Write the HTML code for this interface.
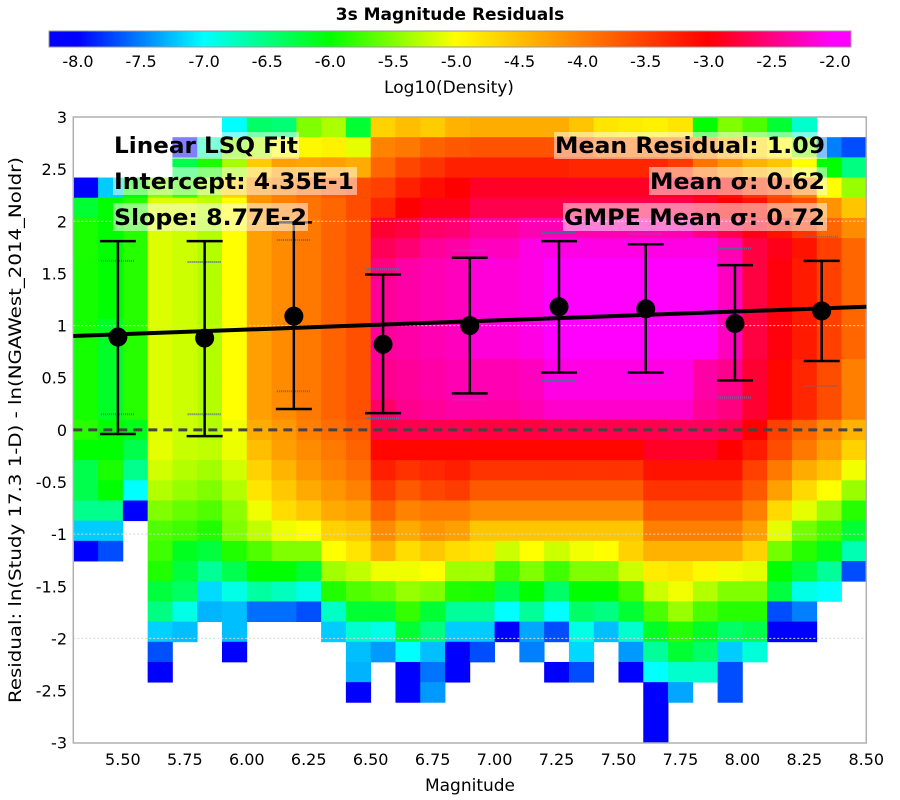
<!DOCTYPE html>
<html><head><meta charset="utf-8"><style>
html,body{margin:0;padding:0;background:#fff;}
svg{display:block;font-family:"DejaVu Sans","Liberation Sans",sans-serif;}
</style></head><body>
<svg id="chart" width="900" height="800" viewBox="0 0 900 800" xmlns="http://www.w3.org/2000/svg">
<defs>
<linearGradient id="cbgrad" x1="49" x2="851" y1="0" y2="0" gradientUnits="userSpaceOnUse">
<stop offset="0.036" stop-color="#0000ff"/><stop offset="0.193" stop-color="#00ffff"/><stop offset="0.350" stop-color="#00ff00"/><stop offset="0.507" stop-color="#ffff00"/><stop offset="0.821" stop-color="#ff0000"/><stop offset="0.979" stop-color="#ff00ff"/>
</linearGradient>
</defs>
<text x="450" y="20" text-anchor="middle" font-size="17" font-weight="bold">3s Magnitude Residuals</text>
<rect x="49" y="31" width="802" height="16" fill="url(#cbgrad)" stroke="#999" stroke-width="1"/>
<g id="cbticks"></g>
<text x="449" y="93" text-anchor="middle" font-size="17">Log10(Density)</text>
<g id="cells"></g>
<g id="grid"></g>
<rect x="73.3" y="117" width="793" height="626" fill="none" stroke="#b0b0b0" stroke-width="1.5"/>
<g id="yticks"></g>
<g id="xticks"></g>
<text x="470" y="791" text-anchor="middle" font-size="17">Magnitude</text>
<text transform="translate(21,430) rotate(-90)" text-anchor="middle" font-size="16.5" textLength="546" lengthAdjust="spacingAndGlyphs">Residual: ln(Study 17.3 1-D) - ln(NGAWest_2014_NoIdr)</text>
<line id="zeroline" stroke="#444" stroke-width="3" stroke-dasharray="9,6"/>
<g id="bars"></g>
<line id="fitline" stroke="#000" stroke-width="4"/>
<g id="points"></g>
<g font-size="22" font-weight="bold">
<rect x="172" y="132" width="127" height="27" fill="#fff" fill-opacity="0.5"/>
<rect x="113" y="167" width="244" height="28" fill="#fff" fill-opacity="0.5"/>
<rect x="113" y="203" width="195" height="28" fill="#fff" fill-opacity="0.5"/>
<text x="114" y="153" textLength="184" lengthAdjust="spacingAndGlyphs">Linear LSQ Fit</text>
<text x="114" y="189" textLength="240" lengthAdjust="spacingAndGlyphs">Intercept: 4.35E-1</text>
<text x="114" y="225" textLength="193" lengthAdjust="spacingAndGlyphs">Slope: 8.77E-2</text>
<rect x="554" y="132" width="273" height="27" fill="#fff" fill-opacity="0.5"/>
<rect x="649" y="167" width="178" height="28" fill="#fff" fill-opacity="0.5"/>
<rect x="563" y="203" width="264" height="28" fill="#fff" fill-opacity="0.5"/>
<text x="825" y="153" text-anchor="end" textLength="270" lengthAdjust="spacingAndGlyphs">Mean Residual: 1.09</text>
<text x="825" y="189" text-anchor="end" textLength="175" lengthAdjust="spacingAndGlyphs">Mean σ: 0.62</text>
<text x="825" y="225" text-anchor="end" textLength="261" lengthAdjust="spacingAndGlyphs">GMPE Mean σ: 0.72</text>
</g>
</svg>
<script>
const N = null;
const magMin = 5.3, magMax = 8.5, resMin = -3, resMax = 3;
const xTickLabels = ["5.50","5.75","6.00","6.25","6.50","6.75","7.00","7.25","7.50","7.75","8.00","8.25","8.50"];
const yTickLabels = ["3","2.5","2","1.5","1","0.5","0","-0.5","-1","-1.5","-2","-2.5","-3"];
const cbTickLabels = ["-8.0","-7.5","-7.0","-6.5","-6.0","-5.5","-5.0","-4.5","-4.0","-3.5","-3.0","-2.5","-2.0"];
const gridValues = [2, 1, -1, -2];
const density = [
[N,N,N,N,N,N,-7,-6.4,-6.45,-5.5,-5.33,-6.2,-4.65,-4.5,-4.6,-4.4,-4.35,-4.35,-4.35,-4.35,-4.55,-4.8,-4.85,-4.9,-4.8,-6,-5.5,-5.7,-6.2,-6.8,N,N],
[N,N,N,N,-8,-6.7,-5.5,-5.3,-5,-4.95,-4.9,-5.1,-4.02,-3.94,-3.78,-3.7,-3.65,-3.65,-3.65,-3.65,-3.65,-3.9,-3.9,-3.9,-3.9,-4.1,-4.4,-4.7,-4.95,-5.5,-7.5,-7.7],
[N,N,N,N,-6.3,-5.9,-5.35,-4.6,-4.25,-4.3,-4.25,-4.35,-3.8,-3.55,-3.4,-3.25,-3.25,-3.25,-3.25,-3.25,-3.3,-3.3,-3.3,-3.3,-3.45,-3.9,-4.15,-4.4,-4.55,-5,-6,-6.5],
[-8,-7.2,-6,-5.5,-5.75,-5.35,-4.65,-4.15,-4,-3.85,-3.7,-3.6,-3.5,-3.25,-3.1,-3,-2.85,-2.85,-2.85,-2.85,-2.85,-2.85,-2.85,-2.85,-2.85,-2.9,-3.1,-3.4,-3.6,-4,-5,-5.4],
[-6.2,-6,-5.85,-5.15,-5.15,-5.25,-5,-4.15,-4,-3.9,-3.8,-3.6,-3.3,-3,-2.9,-2.9,-2.7,-2.7,-2.7,-2.7,-2.7,-2.7,-2.7,-2.7,-2.7,-2.85,-3,-3.15,-3.5,-3.6,-4.15,-4.55],
[-5.9,-6,-5.85,-5.14,-5.2,-5.3,-5,-4.25,-4.1,-3.94,-3.78,-3.63,-2.8,-2.75,-2.6,-2.55,-2.4,-2.4,-2.3,-2.3,-2.3,-2.3,-2.3,-2.3,-2.3,-2.5,-2.7,-2.9,-3.15,-3.4,-3.8,-4.1],
[-5.9,-6,-5.85,-5.14,-5.2,-5.3,-5,-4.25,-4.1,-3.94,-3.78,-3.63,-2.65,-2.55,-2.4,-2.35,-2.25,-2.25,-2.1,-2.1,-2.1,-2.1,-2.1,-2.1,-2.1,-2.1,-2.3,-2.75,-2.9,-3.15,-3.5,-3.8],
[-5.92,-6,-5.85,-5.14,-5.2,-5.3,-5,-4.25,-4.1,-3.94,-3.78,-3.63,-2.5,-2.35,-2.3,-2.25,-2.15,-2.15,-2.1,-2,-2,-2,-2,-2,-2,-2,-2.25,-2.75,-2.95,-3.2,-3.5,-3.8],
[-5.92,-6,-5.85,-5.14,-5.2,-5.3,-5,-4.25,-4.1,-3.94,-3.78,-3.63,-2.4,-2.35,-2.3,-2.25,-2.15,-2.15,-2.1,-2,-2,-2,-2,-2,-2,-2,-2.25,-2.75,-2.95,-3.2,-3.5,-3.8],
[-5.92,-6,-5.85,-5.14,-5.2,-5.3,-5,-4.25,-4.1,-3.94,-3.78,-3.63,-2.4,-2.35,-2.3,-2.25,-2.15,-2.15,-2.1,-2,-2,-2,-2,-2,-2,-2,-2.25,-2.75,-2.95,-3.2,-3.5,-3.8],
[-5.92,-6.15,-5.85,-5.14,-5.2,-5.3,-5,-4.25,-4.1,-3.94,-3.78,-3.63,-2.4,-2.35,-2.3,-2.25,-2.15,-2.15,-2.1,-2,-2,-2,-2,-2,-2,-2,-2.25,-2.75,-2.95,-3.2,-3.5,-3.8],
[-5.92,-6.15,-5.85,-5.14,-5.2,-5.3,-5,-4.25,-4.1,-3.94,-3.78,-3.63,-2.4,-2.35,-2.3,-2.25,-2.15,-2.15,-2.1,-2,-2,-2,-2,-2,-2,-2,-2.25,-2.75,-2.95,-3.2,-3.5,-3.8],
[-5.92,-6.15,-5.85,-5.14,-5.2,-5.3,-5,-4.25,-4.1,-3.94,-3.78,-3.63,-2.45,-2.4,-2.35,-2.3,-2.3,-2.3,-2.25,-2.1,-2.1,-2.1,-2.1,-2.1,-2.1,-2.35,-2.45,-2.8,-3.05,-3.3,-3.6,-4],
[-5.92,-6.15,-5.85,-5.14,-5.2,-5.3,-5,-4.25,-4.1,-3.94,-3.78,-3.63,-2.45,-2.4,-2.35,-2.3,-2.3,-2.3,-2.25,-2.1,-2.1,-2.1,-2.1,-2.1,-2.1,-2.35,-2.45,-2.8,-3.05,-3.3,-3.6,-4],
[-5.92,-6.15,-5.85,-5.14,-5.2,-5.3,-5,-4.25,-4.1,-3.94,-3.78,-3.63,-2.6,-2.45,-2.4,-2.35,-2.35,-2.35,-2.3,-2.2,-2.2,-2.2,-2.2,-2.2,-2.2,-2.4,-2.5,-2.8,-3.05,-3.3,-3.6,-4],
[-5.85,-6,-6.1,-5.12,-5.2,-5.3,-5.05,-4.35,-4.2,-4,-3.85,-3.7,-2.75,-2.7,-2.7,-2.7,-2.75,-2.75,-2.75,-2.7,-2.7,-2.7,-2.7,-2.7,-2.65,-2.65,-2.7,-3,-3.5,-3.8,-4.1,-4.4],
[-6,-6,-6.3,-5.1,-5.22,-5.25,-5.08,-4.49,-4.25,-4.1,-3.94,-3.78,-3.05,-3.05,-3.05,-3.05,-3.05,-3.05,-3.05,-3.05,-3.05,-3.05,-3.05,-2.85,-2.85,-2.85,-3,-3.2,-3.6,-3.95,-4.25,-4.65],
[-6.3,-5.9,-6.55,-5.18,-5.3,-5.37,-5.18,-4.65,-4.41,-4.18,-4.02,-3.86,-3.24,-3.39,-3.31,-3.24,-3.4,-3.4,-3.4,-3.4,-3.4,-3.4,-3.4,-3.15,-3.15,-3.15,-3.15,-3.5,-3.95,-4.35,-4.55,-5.05],
[-6.3,-6,-7,-5.3,-5.41,-5.5,-5.3,-4.8,-4.57,-4.33,-4.18,-4.02,-3.47,-3.7,-3.55,-3.47,-3.7,-3.7,-3.7,-3.7,-3.7,-3.7,-3.7,-3.4,-3.4,-3.4,-3.4,-3.7,-4.25,-4.7,-5,-5.4],
[-6.55,-6.55,-8,-5.5,-5.6,-5.69,-5.45,-5.06,-4.73,-4.57,-4.33,-4.25,-3.78,-4.02,-3.94,-3.94,-4.1,-4.1,-4.1,-4.1,-4.1,-4.1,-4.1,-3.7,-3.7,-3.7,-3.7,-4,-4.7,-5.1,-5.4,-5.85],
[-7.2,-7.2,N,-5.69,-5.76,-5.88,-5.5,-5.25,-5.06,-5,-4.65,-4.57,-4.1,-4.33,-4.18,-4.25,-4.55,-4.55,-4.55,-4.55,-4.55,-4.55,-4.55,-4,-4,-4,-4,-4.25,-5.1,-5.55,-5.75,-6.2],
[-8,-7.7,N,-5.76,-6.12,-6.24,-5.88,-5.69,-5.5,-5.5,-5,-4.8,-4.41,-4.73,-4.57,-4.73,-4.8,-5.2,-5,-5.2,-5.05,-5,-4.65,-4.4,-4.4,-4.4,-4.4,-4.65,-5.55,-5.85,-6.1,-6.7],
[N,N,N,-5.88,-6.24,-6.59,-6.31,-6,-6,-6.2,-5.37,-5.25,-5.06,-5.06,-5,-5.37,-5.35,-5.75,-5.5,-5.75,-5.5,-5.5,-5.2,-4.85,-4.8,-4.95,-5.05,-5.1,-6,-6.25,-6.6,-7.7],
[N,N,N,-6.24,-6.39,-7.14,-6.9,-6.63,-6.75,-6.9,-5.88,-5.69,-5.6,-5.41,-5.5,-5.88,-5.9,-6.3,-6,-6.4,-6,-6,-5.75,-5.2,-5.05,-5.3,-5.5,-5.5,-6.25,-6.9,-7,N],
[N,N,N,-6.5,-6.9,-7.29,-7.25,-7.57,-7.57,-7.69,-6.78,-6.2,-6.2,-5.8,-6.2,-6.6,-6.6,-7,-6.6,-7,-6.4,-6.5,-6.2,-5.7,-5.4,-5.7,-5.85,-5.85,-7.7,-7.5,N,N],
[N,N,N,-7.18,-7.25,N,-7.25,N,N,N,-7.2,-6.8,-6.9,-6.2,-6.5,-7.2,-7.2,-8,-7.35,-7.7,-6.9,-7.25,-6.8,-6.15,-5.85,-6.15,-6.4,-6.3,-8,-8,N,N],
[N,N,N,-7.69,N,N,-8,N,N,N,N,-7.25,-7.4,-7,-7.25,-8,-7.7,N,-7.5,N,-7.15,N,-7.4,-6.6,-6.2,-6.4,-7.2,-6.85,N,N,N,N],
[N,N,N,-8,N,N,N,N,N,N,N,-7.3,N,-8,-7.55,-8,N,N,N,-8,-7.7,N,-8,-7,-6.8,-6.8,-7.7,N,N,N,N,N],
[N,N,N,N,N,N,N,N,N,N,N,-8,N,-8,-7.4,N,N,N,N,N,N,N,N,-8,-7.35,N,-7.7,N,N,N,N,N],
[N,N,N,N,N,N,N,N,N,N,N,N,N,N,N,N,N,N,N,N,N,N,N,-8,N,N,N,N,N,N,N,N],
[N,N,N,N,N,N,N,N,N,N,N,N,N,N,N,N,N,N,N,N,N,N,N,-8,N,N,N,N,N,N,N,N]
];
const binMags = [5.48, 5.83, 6.19, 6.55, 6.90, 7.26, 7.61, 7.97, 8.32];
const binMeans = [0.89, 0.88, 1.09, 0.82, 1.00, 1.18, 1.16, 1.02, 1.14];
const sigmaHi = [1.81, 1.81, 1.99, 1.49, 1.65, 1.81, 1.78, 1.58, 1.62];
const sigmaLo = [-0.04, -0.06, 0.20, 0.16, 0.35, 0.55, 0.55, 0.475, 0.66];
const gmpeHi = [1.62, 1.61, 1.82, 1.54, 1.72, 1.89, 1.88, 1.74, 1.85];
const gmpeLo = [0.15, 0.15, 0.37, 0.11, 0.29, 0.47, 0.45, 0.31, 0.42];
const fitIntercept = 0.435, fitSlope = 0.0877;

const PL = 73.3, PR = 866.3, PT = 117, PB = 742.7;
const NS = "http://www.w3.org/2000/svg";
function xs(m){ return PL + (m - magMin) / (magMax - magMin) * (PR - PL); }
function ys(v){ return PT + (resMax - v) / (resMax - resMin) * (PB - PT); }
function cbx(v){ return 78 + (v + 8) * 126.17; }
function mk(tag, attrs, parent){ const e = document.createElementNS(NS, tag); for (const k in attrs) e.setAttribute(k, attrs[k]); parent.appendChild(e); return e; }
function color(v){
  const st = [[-8,0,0,255],[-7,0,255,255],[-6,0,255,0],[-5,255,255,0],[-3,255,0,0],[-2,255,0,255]];
  if (v <= -8) return "rgb(0,0,255)"; if (v >= -2) return "rgb(255,0,255)";
  for (let i = 0; i < st.length - 1; i++){
    const a = st[i], b = st[i+1];
    if (v >= a[0] && v <= b[0]){ const t = (v - a[0]) / (b[0] - a[0]);
      return "rgb(" + [1,2,3].map(k => Math.round(a[k] + (b[k] - a[k]) * t)).join(",") + ")"; }
  }
}
const cells = document.getElementById("cells");
const nRows = density.length, nCols = density[0].length;
const dm = (magMax - magMin) / nCols, dr = (resMax - resMin) / nRows;
density.forEach((row, r) => row.forEach((v, c) => {
  if (v === null) return;
  const x0 = xs(magMin + c * dm), x1 = xs(magMin + (c + 1) * dm);
  const y0 = ys(resMax - r * dr), y1 = ys(resMax - (r + 1) * dr);
  const e = mk("rect", {x: x0, y: y0, width: x1 - x0 + 0.4, height: y1 - y0 + 0.4, fill: color(v)}, cells);
  
  
}));
const grid = document.getElementById("grid");
gridValues.forEach(g => {
  const e = mk("line", {x1: PL, x2: PR, y1: ys(g), y2: ys(g), stroke: "#d8d8d8", "stroke-width": 1, "stroke-dasharray": "2,2"}, grid);
  
  
});
const yt = document.getElementById("yticks");
yTickLabels.forEach(t => {
  const e = mk("text", {x: 67, y: ys(parseFloat(t)) + 6, "text-anchor": "end", "font-size": 16}, yt);
  e.textContent = t;
  
  
});
const xt = document.getElementById("xticks");
xTickLabels.forEach(t => {
  const e = mk("text", {x: xs(parseFloat(t)), y: 765, "text-anchor": "middle", "font-size": 16}, xt);
  e.textContent = t;
  
  
});
const ct = document.getElementById("cbticks");
cbTickLabels.forEach(t => {
  const e = mk("text", {x: cbx(parseFloat(t)), y: 67, "text-anchor": "middle", "font-size": 16}, ct);
  e.textContent = t;
  
  
});
const zl = document.getElementById("zeroline");
zl.setAttribute("x1", PL); zl.setAttribute("x2", PR); zl.setAttribute("y1", ys(0)); zl.setAttribute("y2", ys(0));
const bars = document.getElementById("bars");
binMags.forEach((m, i) => {
  const x = xs(m);
  [gmpeHi[i], gmpeLo[i]].forEach(g => {
    const e = mk("line", {x1: x - 17, x2: x + 17, y1: ys(g), y2: ys(g), stroke: "#5a6a9a", "stroke-width": 2, "stroke-dasharray": "1,1"}, bars);
    
    
  });
  const v = mk("line", {x1: x, x2: x, y1: ys(sigmaHi[i]), y2: ys(sigmaLo[i]), stroke: "#000", "stroke-width": 2.5}, bars);
  
  
  [sigmaHi[i], sigmaLo[i]].forEach(s => {
    const e = mk("line", {x1: x - 18, x2: x + 18, y1: ys(s), y2: ys(s), stroke: "#000", "stroke-width": 2.5}, bars);
    
    
  });
});
const fl = document.getElementById("fitline");
fl.setAttribute("x1", xs(magMin)); fl.setAttribute("x2", xs(magMax));
fl.setAttribute("y1", ys(fitIntercept + fitSlope * magMin)); fl.setAttribute("y2", ys(fitIntercept + fitSlope * magMax));
const pts = document.getElementById("points");
binMags.forEach((m, i) => {
  const e = mk("circle", {cx: xs(m), cy: ys(binMeans[i]), r: 9.5, fill: "#000"}, pts);
  
  
});
</script>
</body></html>
